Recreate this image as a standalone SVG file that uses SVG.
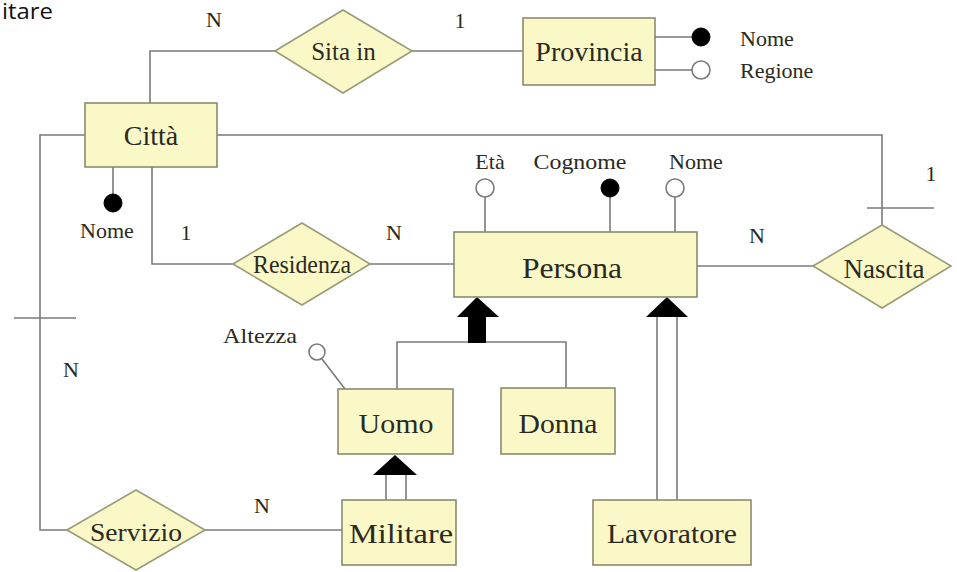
<svg xmlns="http://www.w3.org/2000/svg" width="957" height="572" viewBox="0 0 957 572">
<style>
.ent{fill:#fbf8c8;stroke:#8a8a70;stroke-width:1.6}
.rel{fill:#fbf8c8;stroke:#9a9a78;stroke-width:1.6}
.ln{fill:none;stroke:#7a7a7a;stroke-width:1.6}
.t{font-family:"Liberation Serif","Times New Roman",serif;fill:#2a2a20;text-anchor:middle}
.big{font-size:28px}
.mid{font-size:25px}
.sm{font-size:22px}
.lab{font-family:"Liberation Serif","Times New Roman",serif;fill:#2a2a20;font-size:22px}
.ao{fill:#fff;stroke:#7a7a7a;stroke-width:1.6}
.af{fill:#000;stroke:#000;stroke-width:1}
.arr{fill:#000}
</style>
<rect width="957" height="572" fill="#fff"/>
<text x="2" y="19" font-family="'Open Sans','Liberation Sans',sans-serif" font-size="21" fill="#111" textLength="51" lengthAdjust="spacingAndGlyphs">itare</text>

<g id="connectors">
  <path class="ln" d="M150,103 V51 H275"/>
  <path class="ln" d="M412,51 H523"/>
  <path class="ln" d="M655,37 H692 M655,70 H692"/>
  <path class="ln" d="M152,167 V264 H233"/>
  <path class="ln" d="M370,264 H454"/>
  <path class="ln" d="M217,135 H882 V225"/>
  <path class="ln" d="M867,208 H934"/>
  <path class="ln" d="M697,266 H813"/>
  <path class="ln" d="M85,135 H40 V530 H67"/>
  <path class="ln" d="M14,318 H76"/>
  <path class="ln" d="M205,530 H342"/>
  <path class="ln" d="M113,167 V194"/>
  <path class="ln" d="M485,197 V232 M610,197 V232 M675,197 V232"/>
  <path class="ln" d="M322,359 L345,389"/>
  <path class="ln" d="M397,389 V342 H566 V388"/>
  <polygon class="arr" points="457,317 477,297 499,317 486,317 486,343 468,343 468,317"/>
  <path class="ln" d="M386,500 V475 M406,500 V475"/>
  <polygon class="arr" points="373,475 395,455 417,475"/>
  <path class="ln" d="M657,500 V317 M677,500 V317"/>
  <polygon class="arr" points="646,317 667,297 688,317"/>
  <text class="t sm" x="214" y="27">N</text>
  <text class="t sm" x="460" y="28">1</text>
  <text class="t sm" x="186" y="240">1</text>
  <text class="t sm" x="394" y="240">N</text>
  <text class="t sm" x="757" y="243">N</text>
  <text class="t sm" x="931" y="181">1</text>
  <text class="t sm" x="71" y="377">N</text>
  <text class="t sm" x="262" y="513">N</text>
</g>

<g id="citta">
  <rect class="ent" x="85" y="103" width="132" height="64"/>
  <text class="t big" x="151" y="145" font-size="27">Città</text>
</g>
<g id="citta-nome">
  <circle class="af" cx="113" cy="203" r="9"/>
  <text class="t sm" x="107" y="238">Nome</text>
</g>
<g id="sita-in">
  <polygon class="rel" points="275,51 343,10 412,51 343,93"/>
  <text class="t mid" x="343.5" y="60">Sita in</text>
</g>
<g id="provincia">
  <rect class="ent" x="523" y="18" width="132" height="67"/>
  <text class="t big" x="589" y="61" font-size="27">Provincia</text>
</g>
<g id="provincia-nome">
  <circle class="af" cx="701" cy="37" r="9"/>
  <text class="lab" x="740" y="46">Nome</text>
</g>
<g id="provincia-regione">
  <circle class="ao" cx="701" cy="70" r="9"/>
  <text class="lab" x="740" y="78">Regione</text>
</g>
<g id="residenza">
  <polygon class="rel" points="233,264 302,223 370,264 302,305"/>
  <text class="t mid" x="302" y="273" textLength="98" lengthAdjust="spacingAndGlyphs">Residenza</text>
</g>
<g id="persona">
  <rect class="ent" x="454" y="232" width="243" height="65"/>
  <text class="t" x="572" y="278" font-size="30" textLength="100" lengthAdjust="spacingAndGlyphs">Persona</text>
</g>
<g id="persona-eta">
  <circle class="ao" cx="485" cy="188" r="9"/>
  <text class="t sm" x="490" y="169">Età</text>
</g>
<g id="persona-cognome">
  <circle class="af" cx="610" cy="188" r="9"/>
  <text class="t sm" x="580" y="169" textLength="93" lengthAdjust="spacingAndGlyphs">Cognome</text>
</g>
<g id="persona-nome">
  <circle class="ao" cx="675" cy="188" r="9"/>
  <text class="t sm" x="696" y="169">Nome</text>
</g>
<g id="nascita">
  <polygon class="rel" points="813,266 882,225 951,266 882,308"/>
  <text class="t" x="884" y="278" font-size="27">Nascita</text>
</g>
<g id="uomo">
  <rect class="ent" x="338" y="389" width="115" height="65"/>
  <text class="t" x="396" y="433" font-size="28" textLength="75" lengthAdjust="spacingAndGlyphs">Uomo</text>
</g>
<g id="uomo-altezza">
  <circle class="ao" cx="317" cy="352" r="8"/>
  <text class="t sm" x="260" y="343" textLength="74" lengthAdjust="spacingAndGlyphs">Altezza</text>
</g>
<g id="donna">
  <rect class="ent" x="501" y="388" width="114" height="66"/>
  <text class="t" x="558" y="433" font-size="28" textLength="79" lengthAdjust="spacingAndGlyphs">Donna</text>
</g>
<g id="militare">
  <rect class="ent" x="342" y="500" width="114" height="65"/>
  <text class="t" x="401" y="543" font-size="28" textLength="104" lengthAdjust="spacingAndGlyphs">Militare</text>
</g>
<g id="lavoratore">
  <rect class="ent" x="593" y="500" width="158" height="65"/>
  <text class="t" x="672" y="543" font-size="28" textLength="130" lengthAdjust="spacingAndGlyphs">Lavoratore</text>
</g>
<g id="servizio">
  <polygon class="rel" points="67,530 136,490 205,530 136,570"/>
  <text class="t" x="136" y="541" font-size="26" textLength="92" lengthAdjust="spacingAndGlyphs">Servizio</text>
</g>
</svg>
